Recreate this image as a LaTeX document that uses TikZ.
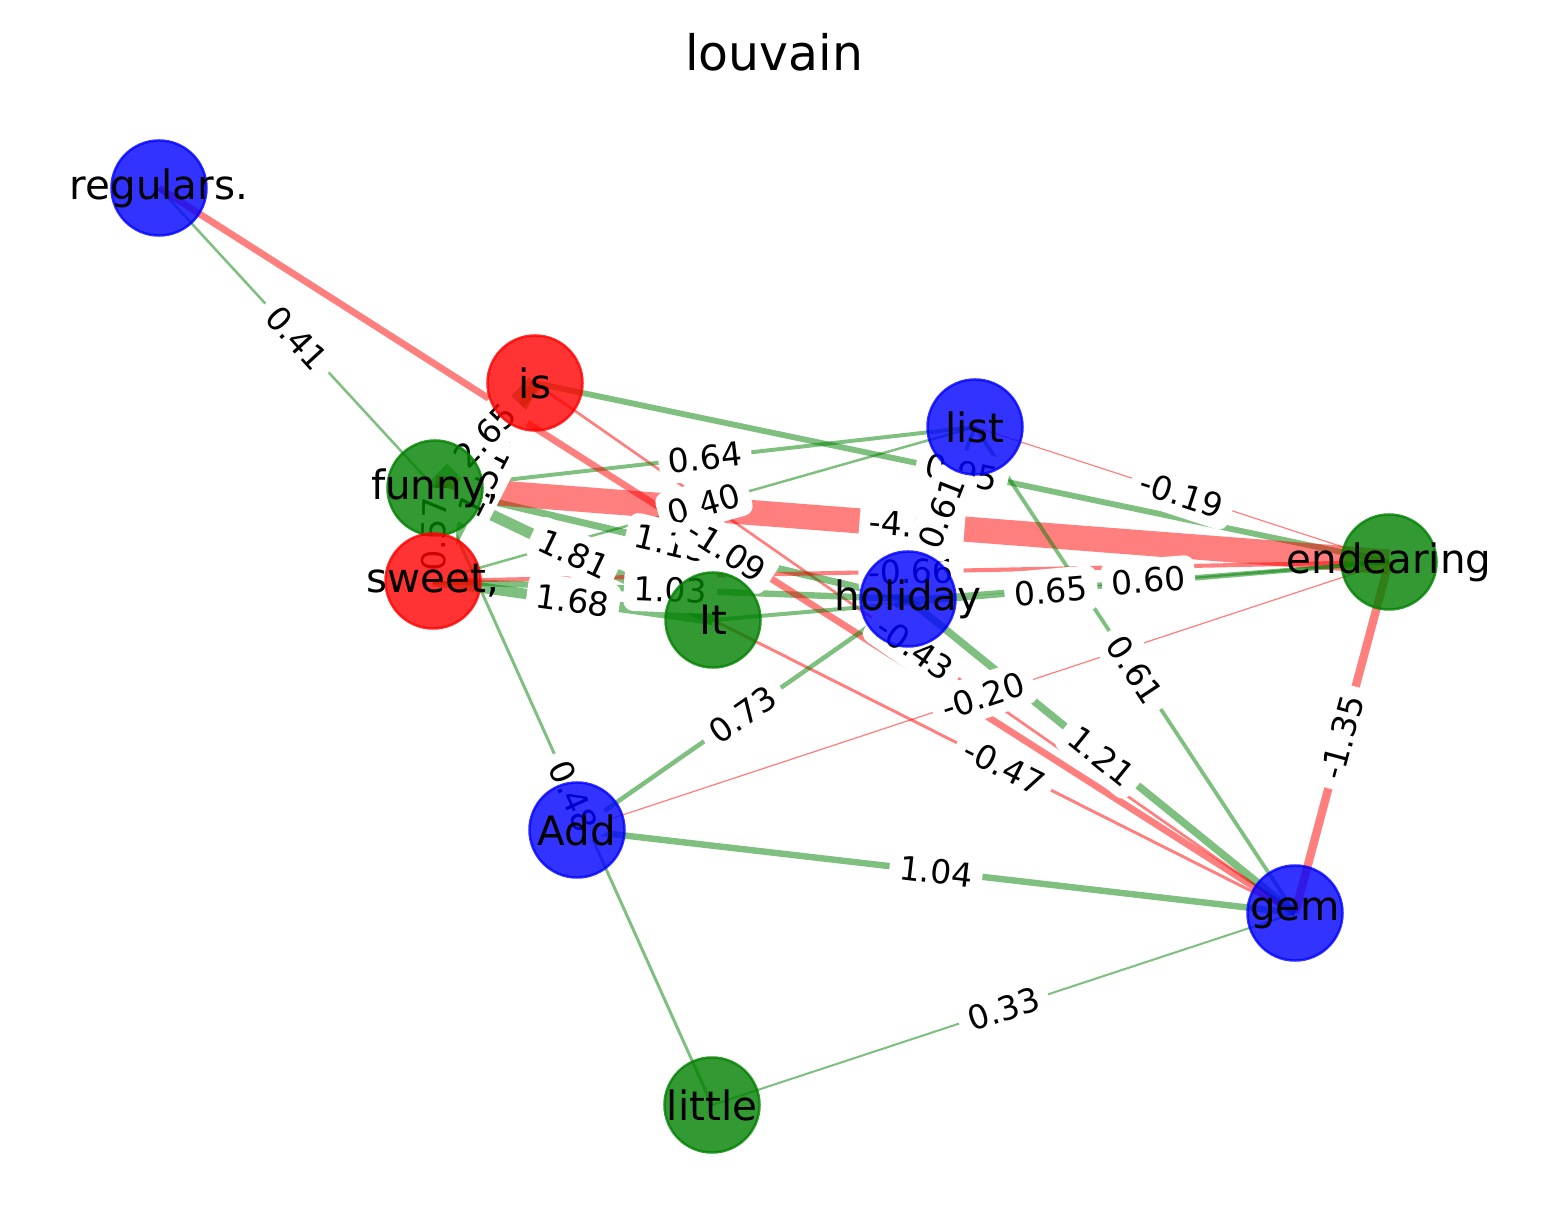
\documentclass[tikz,border=0pt]{standalone}
\usepackage{fontspec}
\setmainfont{DejaVu Sans}
\definecolor{nxblue}{RGB}{0,0,255}
\definecolor{nxred}{RGB}{255,0,0}
\definecolor{nxgreen}{RGB}{0,128,0}
\pgfdeclarelayer{edges}
\pgfdeclarelayer{elabels}
\pgfsetlayers{edges,elabels,main}
\tikzset{
  vtx/.style={circle, minimum size=0.95cm, inner sep=0pt,
              fill=nx#1, fill opacity=0.8, draw=nx#1, draw opacity=0.8,
              line width=0.7pt},
  every label/.style={font=\fontsize{11.5}{13}\selectfont, text opacity=1,
                      inner sep=0pt},
  wline/.style={draw=nx#1, draw opacity=0.5},
  wlabel/.style={fill=white, rounded corners=2.8pt, inner sep=2.8pt,
                 font=\fontsize{9.4}{11}\selectfont, sloped},
}
\begin{document}
\begin{tikzpicture}[x=0.01cm, y=-0.01cm]
  \useasboundingbox (0,0) rectangle (1548,1231);
  \node[font=\fontsize{13.9}{16}\selectfont] (title) at (774,52) {louvain};
  % words
  \node[vtx=blue,  label={center:{regulars.}}] (regulars)  at (159,188)  {};
  \node[vtx=red,   label={center:{is}}]        (is)        at (535,383)  {};
  \node[vtx=green, label={center:{funny,}}]    (funny)     at (435,488)  {};
  \node[vtx=red,   label={center:{sweet,}}]    (sweet)     at (433,581)  {};
  \node[vtx=blue,  label={center:{list}}]      (list)      at (975,427)  {};
  \node[vtx=green, label={center:{endearing}}] (endearing) at (1389,562) {};
  \node[vtx=blue,  label={center:{holiday}}]   (holiday)   at (908,599)  {};
  \node[vtx=green, label={center:{It}}]        (It)        at (713,620)  {};
  \node[vtx=blue,  label={center:{Add}}]       (Add)       at (577,830)  {};
  \node[vtx=blue,  label={center:{gem}}]       (gem)       at (1295,913) {};
  \node[vtx=green, label={center:{little}}]    (little)    at (712,1105) {};
  % weighted edges, width ~ |w|
  \foreach \a/\b/\w/\c in {
      regulars/funny/0.41/green, is/gem/-0.43/red,
      funny/sweet/0.57/green, funny/little/0.48/green,
      is/sweet/1.51/green, is/funny/2.65/green,
      is/endearing/0.95/green, funny/list/0.64/green,
      sweet/list/0.40/green, funny/It/1.81/green,
      sweet/It/1.68/green, sweet/holiday/1.03/green,
      funny/holiday/1.13/green, regulars/gem/-1.09/red,
      funny/endearing/-4.06/red, sweet/endearing/-0.66/red,
      list/holiday/0.61/green, list/endearing/-0.19/red,
      list/gem/0.61/green, It/endearing/0.65/green,
      holiday/endearing/0.60/green, It/gem/-0.47/red,
      holiday/gem/1.21/green, Add/holiday/0.73/green,
      Add/endearing/-0.20/red, endearing/gem/-1.35/red,
      Add/gem/1.04/green, little/gem/0.33/green}{
    \begin{pgfonlayer}{edges}
      \draw[wline=\c, line width={abs(\w)*1.76pt}] (\a.center) -- (\b.center);
    \end{pgfonlayer}
    \begin{pgfonlayer}{elabels}
      \path (\a.center) -- node[wlabel] {\w} (\b.center);
    \end{pgfonlayer}
  }
\end{tikzpicture}
\end{document}
